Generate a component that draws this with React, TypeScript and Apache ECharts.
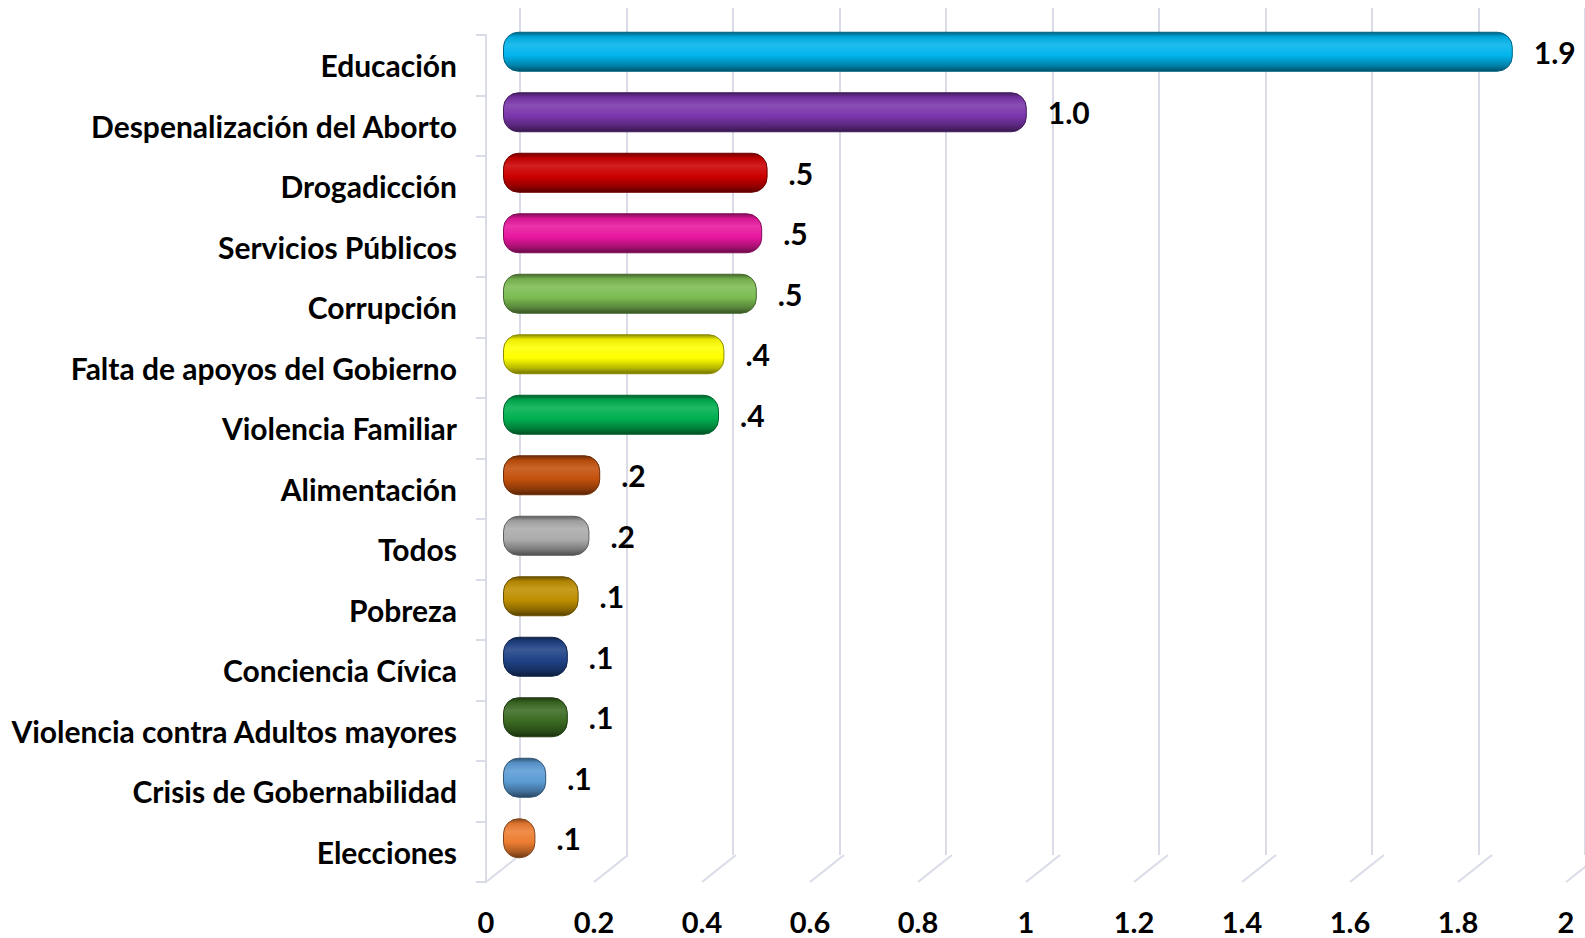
import React, { useEffect, useRef } from "react";
import * as echarts from "echarts";

const categories = [
  "Educación",
  "Despenalización del Aborto",
  "Drogadicción",
  "Servicios Públicos",
  "Corrupción",
  "Falta de apoyos del Gobierno",
  "Violencia Familiar",
  "Alimentación",
  "Todos",
  "Pobreza",
  "Conciencia Cívica",
  "Violencia contra Adultos mayores",
  "Crisis de Gobernabilidad",
  "Elecciones",
];

const values = [1.87, 0.97, 0.49, 0.48, 0.47, 0.41, 0.4, 0.18, 0.16, 0.14, 0.12, 0.12, 0.08, 0.06];

const barColors = [
  "#00b4ec",
  "#7a35ab",
  "#cc0000",
  "#e8179e",
  "#7cbc52",
  "#ffff00",
  "#00b050",
  "#c4500c",
  "#ababab",
  "#bf8f00",
  "#1f4287",
  "#3b6b22",
  "#5b9bd5",
  "#ed7d31",
];

const xTicks = [0, 0.2, 0.4, 0.6, 0.8, 1, 1.2, 1.4, 1.6, 1.8, 2];

function mix(hex: string, amt: number): string {
  const n = parseInt(hex.slice(1), 16);
  let r = (n >> 16) & 255,
    g = (n >> 8) & 255,
    b = n & 255;
  const t = amt < 0 ? 0 : 255;
  const p = Math.abs(amt);
  r = Math.round(r + (t - r) * p);
  g = Math.round(g + (t - g) * p);
  b = Math.round(b + (t - b) * p);
  return "rgb(" + r + "," + g + "," + b + ")";
}

const FONT = "Lato, 'Open Sans', sans-serif";
const GRID_COLOR = "#d9dce6";

export default function App() {
  const ref = useRef<HTMLDivElement>(null);
  useEffect(() => {
    if (!ref.current) return;
    const chart = echarts.init(ref.current, undefined, { renderer: "svg" });
    const W = 1080;
    const H = 847;
    const option: any = {
      animation: false,
      backgroundColor: "#ffffff",
      grid: [
        { left: 486, top: 35, width: W, height: H },
        { left: 503, top: 21.5, width: W, height: H },
        { left: 520, top: 8, width: W, height: H },
      ],
      xAxis: [
        {
          gridIndex: 0,
          type: "value",
          min: 0,
          max: 2,
          interval: 0.2,
          axisLine: { show: false },
          axisTick: { show: false },
          splitLine: { show: false },
          axisLabel: {
            fontFamily: FONT,
            fontWeight: "bold",
            fontSize: 29,
            color: "#000",
            margin: 25,
          },
        },
        {
          gridIndex: 1,
          type: "value",
          min: 0,
          max: 2,
          interval: 0.2,
          show: false,
          splitLine: { show: false },
        },
        {
          gridIndex: 2,
          type: "value",
          min: 0,
          max: 2,
          interval: 0.2,
          axisLine: { show: false },
          axisTick: { show: false },
          axisLabel: { show: false },
          splitLine: { show: true, lineStyle: { color: GRID_COLOR, width: 2 } },
        },
      ],
      yAxis: [
        {
          gridIndex: 0,
          type: "category",
          inverse: true,
          data: categories,
          axisLine: { show: true, lineStyle: { color: GRID_COLOR, width: 2 } },
          axisTick: { show: true, length: 10, lineStyle: { color: GRID_COLOR, width: 2 } },
          axisLabel: {
            fontFamily: FONT,
            fontWeight: "bold",
            fontSize: 30,
            color: "#000",
            margin: 29,
          },
        },
        {
          gridIndex: 1,
          type: "category",
          inverse: true,
          data: categories,
          show: false,
        },
        {
          gridIndex: 2,
          type: "category",
          inverse: true,
          data: categories,
          show: false,
        },
      ],
      series: [
        {
          type: "custom",
          xAxisIndex: 0,
          yAxisIndex: 0,
          silent: true,
          z: 1,
          data: xTicks.map((v) => [v, 0]),
          encode: { x: 0, y: 1 },
          renderItem: (params: any, api: any) => {
            const cs = params.coordSys;
            const x = api.coord([api.value(0), 0])[0];
            const yb = cs.y + cs.height;
            return {
              type: "line",
              shape: { x1: x, y1: yb, x2: x + 34, y2: yb - 27 },
              style: { stroke: GRID_COLOR, lineWidth: 2 },
            };
          },
        },
        {
          type: "bar",
          xAxisIndex: 1,
          yAxisIndex: 1,
          barWidth: 40,
          z: 3,
          data: values.map((v, i) => {
            const c = barColors[i];
            return {
              value: v,
              itemStyle: {
                borderRadius: 15,
                borderColor: mix(c, -0.45),
                borderWidth: 1,
                color: new echarts.graphic.LinearGradient(0, 0, 0, 1, [
                  { offset: 0, color: mix(c, -0.45) },
                  { offset: 0.12, color: mix(c, -0.08) },
                  { offset: 0.32, color: mix(c, 0.12) },
                  { offset: 0.6, color: c },
                  { offset: 0.85, color: mix(c, -0.28) },
                  { offset: 1, color: mix(c, -0.55) },
                ]),
              },
            };
          }),
          label: {
            show: true,
            position: "right",
            distance: 21,
            fontFamily: FONT,
            fontWeight: "bold",
            fontSize: 30,
            color: "#000",
            formatter: (p: any) => Number(p.value).toFixed(1).replace(/^0/, ""),
          },
        },
      ],
    };
    chart.setOption(option);
    return () => chart.dispose();
  }, []);
  return (
    <div
      ref={ref}
      style={{ position: "absolute", left: 0, top: 0, width: 1585, height: 938 }}
    />
  );
}
